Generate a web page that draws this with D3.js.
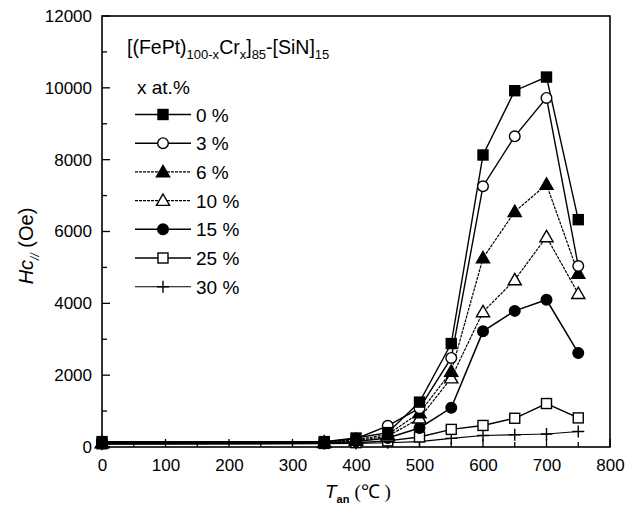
<!DOCTYPE html>
<html>
<head>
<meta charset="utf-8" />
<script src="https://d3js.org/d3.v7.min.js"></script>
<style>
  body { margin: 0; background: #fff; }
  text { font-family: "Liberation Sans", Arial, sans-serif; fill: #000; }
</style>
</head>
<body>
<svg id="chart" width="634" height="507"></svg>
<script>

// annealing temperatures (C)
const temps = [0, 350, 400, 450, 500, 550, 600, 650, 700, 750];

// Hc values (Oe) for each Cr content
const cr0  = [150, 150, 250, 400, 1250, 2880, 8130, 9920, 10300, 6330];
const cr3  = [130, 140, 230, 590, 1080, 2480, 7260, 8650, 9720, 5040];
const cr6  = [120, 130, 200, 350, 950, 2100, 5260, 6550, 7310, 4830];
const cr10 = [110, 120, 180, 300, 800, 1920, 3760, 4650, 5850, 4270];
const cr15 = [100, 110, 150, 250, 530, 1090, 3220, 3790, 4100, 2620];
const cr25 = [90, 100, 120, 170, 280, 490, 600, 800, 1210, 810];
const cr30 = [80, 90, 100, 120, 150, 240, 320, 340, 360, 430];

const seriesLabels = ["0 %", "3 %", "6 %", "10 %", "15 %", "25 %", "30 %"];
const seriesValues = [cr0, cr3, cr6, cr10, cr15, cr25, cr30];
const seriesMarkers = ["squareFill", "circleOpen", "triFill", "triOpen", "circleFill", "squareOpen", "plus"];

const xTicks = [0, 100, 200, 300, 400, 500, 600, 700, 800];
const yTicks = [0, 2000, 4000, 6000, 8000, 10000, 12000];

var svg = d3.select("#chart");
var padL = 102, padR = 610, padT = 16, padB = 447;

var x = d3.scaleLinear().domain([0, 800]).range([padL, padR]);
var y = d3.scaleLinear().domain([0, 12000]).range([padB, padT]);

// frame
svg.append("rect")
  .attr("x", padL).attr("y", padT)
  .attr("width", padR - padL).attr("height", padB - padT)
  .attr("fill", "none").attr("stroke", "#000").attr("stroke-width", 1.6);

// x axis (ticks inward)
var xAxis = d3.axisBottom(x).tickValues(xTicks).tickSize(0).tickPadding(12);
var gx = svg.append("g").attr("transform", "translate(0," + padB + ")").call(xAxis);
gx.select(".domain").remove();
gx.selectAll("text").style("font-size", "17px").style("font-family", "Liberation Sans, Arial, sans-serif");
d3.range(0, 801, 50).forEach(function(v) {
  var len = (v % 100 === 0) ? 8 : 5;
  svg.append("line").attr("x1", x(v)).attr("x2", x(v))
    .attr("y1", padB).attr("y2", padB - len)
    .attr("stroke", "#000").attr("stroke-width", 1.3);
});

// y axis (ticks inward)
var yAxis = d3.axisLeft(y).tickValues(yTicks).tickSize(0).tickPadding(10).tickFormat(d3.format("d"));
var gy = svg.append("g").attr("transform", "translate(" + padL + ",0)").call(yAxis);
gy.select(".domain").remove();
gy.selectAll("text").style("font-size", "17px").style("font-family", "Liberation Sans, Arial, sans-serif");
d3.range(0, 12001, 1000).forEach(function(v) {
  var len = (v % 2000 === 0) ? 8 : 5;
  svg.append("line").attr("x1", padL).attr("x2", padL + len)
    .attr("y1", y(v)).attr("y2", y(v))
    .attr("stroke", "#000").attr("stroke-width", 1.3);
});

// marker drawing
function drawMarker(g, type, cx, cy) {
  if (type === "squareFill" || type === "squareOpen") {
    g.append("rect").attr("x", cx - 5).attr("y", cy - 5).attr("width", 10).attr("height", 10)
      .attr("fill", type === "squareFill" ? "#000" : "#fff").attr("stroke", "#000").attr("stroke-width", 1.4);
  } else if (type === "circleFill" || type === "circleOpen") {
    g.append("circle").attr("cx", cx).attr("cy", cy).attr("r", 5.3)
      .attr("fill", type === "circleFill" ? "#000" : "#fff").attr("stroke", "#000").attr("stroke-width", 1.4);
  } else if (type === "triFill" || type === "triOpen") {
    g.append("path").attr("d", d3.symbol().type(d3.symbolTriangle).size(75)())
      .attr("transform", "translate(" + cx + "," + (cy + 1) + ")")
      .attr("fill", type === "triFill" ? "#000" : "#fff").attr("stroke", "#000").attr("stroke-width", 1.4);
  } else {
    g.append("path").attr("d", "M" + (cx - 6) + "," + cy + "H" + (cx + 6) + "M" + cx + "," + (cy - 6) + "V" + (cy + 6))
      .attr("stroke", "#000").attr("stroke-width", 1.4);
  }
}

var lineStyles = [
  {w: 1.4, dash: null},
  {w: 1.4, dash: null},
  {w: 1.2, dash: "3,1"},
  {w: 1.2, dash: "3,1"},
  {w: 1.5, dash: null},
  {w: 1.4, dash: null},
  {w: 1.1, dash: null}
];

var line = d3.line().x(function(d) { return x(d[0]); }).y(function(d) { return y(d[1]); });

// draw lines first, then markers on top
var plot = svg.append("g");
seriesValues.forEach(function(vals, i) {
  var pts = temps.map(function(t, j) { return [t, vals[j]]; });
  plot.append("path").datum(pts).attr("d", line)
    .attr("fill", "none").attr("stroke", "#000")
    .attr("stroke-width", lineStyles[i].w)
    .attr("stroke-dasharray", lineStyles[i].dash);
});
for (var i = seriesValues.length - 1; i >= 0; i--) {
  var gm = plot.append("g");
  temps.forEach(function(t, j) { drawMarker(gm, seriesMarkers[i], x(t), y(seriesValues[i][j])); });
}

// title
var title = svg.append("text").attr("x", 127).attr("y", 54).style("font-size", "19.5px");
title.append("tspan").text("[(FePt)");
title.append("tspan").attr("dy", 5).style("font-size", "13px").text("100-x");
title.append("tspan").attr("dy", -5).text("Cr");
title.append("tspan").attr("dy", 5).style("font-size", "13px").text("x");
title.append("tspan").attr("dy", -5).text("]");
title.append("tspan").attr("dy", 5).style("font-size", "13px").text("85");
title.append("tspan").attr("dy", -5).text("-[SiN]");
title.append("tspan").attr("dy", 5).style("font-size", "13px").text("15");

svg.append("text").attr("x", 137).attr("y", 94).style("font-size", "19px").text("x at.%");

// legend
var legend = svg.append("g");
seriesLabels.forEach(function(lab, i) {
  var ly = 114.5 + i * 28.7;
  legend.append("line").attr("x1", 135).attr("x2", 191).attr("y1", ly).attr("y2", ly)
    .attr("stroke", "#000").attr("stroke-width", lineStyles[i].w)
    .attr("stroke-dasharray", lineStyles[i].dash);
  drawMarker(legend, seriesMarkers[i], 163, ly);
  legend.append("text").attr("x", 196).attr("y", ly + 7).style("font-size", "19px").text(lab);
});

// axis titles
var xl = svg.append("text").attr("x", 325).attr("y", 498).style("font-size", "19px");
xl.append("tspan").style("font-style", "italic").text("T");
xl.append("tspan").attr("dy", 5).style("font-size", "11px").style("font-weight", "bold").text("an");
xl.append("tspan").attr("dy", -5).attr("dx", 5).style("font-family", "Liberation Serif, serif").text("(\u2103 )");

var yl = svg.append("text").attr("transform", "translate(33,246) rotate(-90)")
  .attr("text-anchor", "middle").style("font-size", "20px");
yl.append("tspan").style("font-style", "italic").text("Hc");
yl.append("tspan").attr("dy", 6).style("font-size", "12px").style("font-style", "italic").text("//");
yl.append("tspan").attr("dy", -6).text(" (Oe)");

</script>
</body>
</html>
